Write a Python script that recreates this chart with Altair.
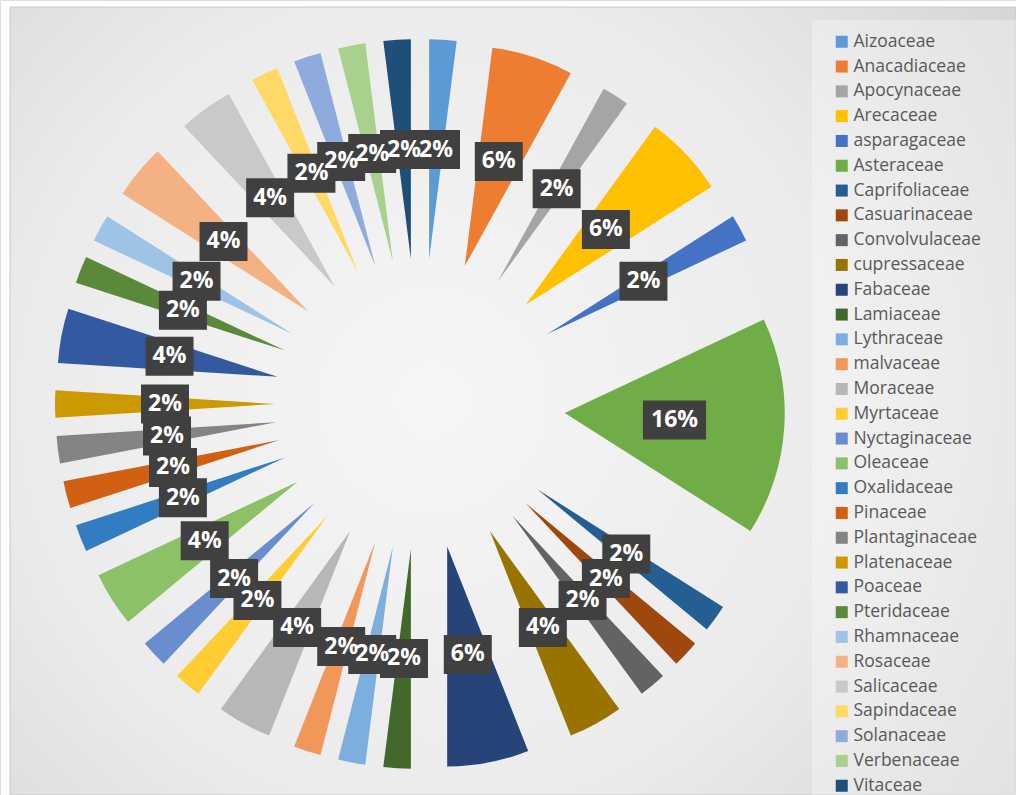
import altair as alt
import pandas as pd

families = ["Aizoaceae", "Anacadiaceae", "Apocynaceae", "Arecaceae", "asparagaceae",
            "Asteraceae", "Caprifoliaceae", "Casuarinaceae", "Convolvulaceae", "cupressaceae",
            "Fabaceae", "Lamiaceae", "Lythraceae", "malvaceae", "Moraceae", "Myrtaceae",
            "Nyctaginaceae", "Oleaceae", "Oxalidaceae", "Pinaceae", "Plantaginaceae",
            "Platenaceae", "Poaceae", "Pteridaceae", "Rhamnaceae", "Rosaceae", "Salicaceae",
            "Sapindaceae", "Solanaceae", "Verbenaceae", "Vitaceae"]
counts = [1, 3, 1, 3, 1, 8, 1, 1, 1, 2, 3, 1, 1, 1, 2, 1, 1, 2, 1, 1, 1, 1, 2, 1, 1, 2, 2, 1, 1, 1, 1]
colors = ["#5B9BD5", "#ED7D31", "#A5A5A5", "#FFC000", "#4472C4", "#70AD47",
          "#255E91", "#9E480E", "#636363", "#997300", "#264478", "#43682B",
          "#7CAFDD", "#F1975A", "#B7B7B7", "#FFCD33", "#698ED0", "#8CC168",
          "#327DC2", "#D26012", "#848484", "#CC9A00", "#335AA1", "#5A8A39",
          "#9DC3E6", "#F4B183", "#C9C9C9", "#FFD966", "#8FAADC", "#A9D18E",
          "#1F4E79"]

df = pd.DataFrame({"family": families, "count": counts, "idx": list(range(len(families)))})

CX, CY, EXPLODE, R, LR = 420, 404, 145, 220, 255

base = alt.Chart(df).transform_joinaggregate(
    total="sum(count)"
).transform_window(
    cum="sum(count)", sort=[alt.SortField("idx")], frame=[None, 0]
).transform_calculate(
    t1="2*PI*datum.cum/datum.total",
    t0="2*PI*(datum.cum-datum.count)/datum.total",
).transform_calculate(
    mid="(datum.t0+datum.t1)/2",
).transform_calculate(
    cx=f"{CX}+{EXPLODE}*sin(datum.mid)",
    cy=f"{CY}-{EXPLODE}*cos(datum.mid)",
    lx=f"{CX}+{LR}*sin(datum.mid)",
    ly=f"{CY}-{LR}*cos(datum.mid)",
    label="format(datum.count/datum.total, '.0%')",
)

arcs = base.mark_arc(outerRadius=R, innerRadius=0).encode(
    x=alt.X("cx:Q", scale=None),
    y=alt.Y("cy:Q", scale=None),
    theta=alt.Theta("t0:Q", scale=None),
    theta2="t1:Q",
    color=alt.Color("family:N", scale=alt.Scale(domain=families, range=colors),
                    legend=alt.Legend(title=None, orient="none", legendX=833, legendY=33,
                                      symbolType="square", symbolSize=144,
                                      symbolStrokeWidth=0, labelFont="Open Sans",
                                      labelFontSize=17.5, labelColor="#595959",
                                      rowPadding=5.8, padding=0, labelOffset=3,
                                      symbolLimit=0, labelLimit=300)),
    order=alt.Order("idx:Q"),
)

box2 = base.transform_filter("length(datum.label) <= 2").mark_point(
    shape="M-1.23,-1L1.23,-1L1.23,1L-1.23,1Z", size=1521, filled=True,
    color="#404040", opacity=1, strokeWidth=0
).encode(x=alt.X("lx:Q", scale=None), y=alt.Y("ly:Q", scale=None))

box3 = base.transform_filter("length(datum.label) > 2").mark_point(
    shape="M-1.62,-1L1.62,-1L1.62,1L-1.62,1Z", size=1521, filled=True,
    color="#404040", opacity=1, strokeWidth=0
).encode(x=alt.X("lx:Q", scale=None), y=alt.Y("ly:Q", scale=None))

texts = base.mark_text(font="Open Sans", fontSize=23, fontWeight="bold", color="white",
                       baseline="middle", align="center").encode(
    x=alt.X("lx:Q", scale=None), y=alt.Y("ly:Q", scale=None), text="label:N")

bgdata = pd.DataFrame({"k": [0]})
bg = alt.Chart(bgdata).mark_rect(
    fill={"gradient": "radial", "x1": 0.42, "y1": 0.5, "r1": 0.0,
          "x2": 0.42, "y2": 0.5, "r2": 0.75,
          "stops": [{"offset": 0, "color": "#f6f6f6"}, {"offset": 0.55, "color": "#ebebeb"},
                    {"offset": 1, "color": "#d2d2d2"}]},
    stroke="#c8c8c8", strokeWidth=1
).encode(x=alt.value(10), x2=alt.value(1016), y=alt.value(7), y2=alt.value(795))

legbg = alt.Chart(bgdata).mark_rect(fill="#ffffff", opacity=0.3).encode(
    x=alt.value(812), x2=alt.value(1016), y=alt.value(20), y2=alt.value(795))

chart = alt.layer(bg, legbg, arcs, box2, box3, texts).properties(
    width=1016, height=795, autosize="none", padding=0
).configure_view(stroke=None).configure(background="white")

chart.save("out.html", embed_options={"renderer": "svg", "actions": False})
